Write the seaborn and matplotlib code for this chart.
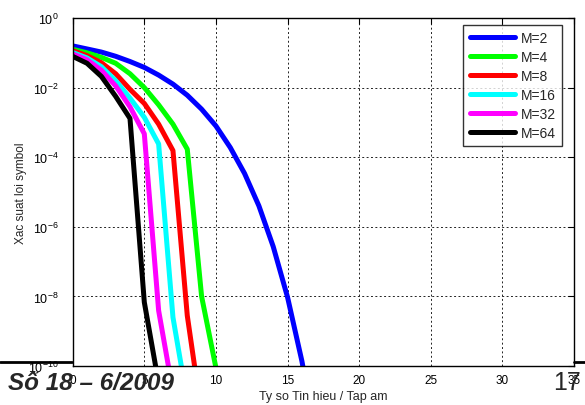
import numpy as np
import pandas as pd
import matplotlib
matplotlib.use("Agg")
import matplotlib.pyplot as plt
import seaborn as sns
from matplotlib.lines import Line2D

# ---- data ----
snr_db = [0, 1, 2, 3, 4, 5, 6, 7, 8, 9, 10, 11, 12, 13, 14, 15, 16, 17]
ser_m2 = [0.158, 0.129, 0.105, 0.0794, 0.0562, 0.038, 0.0229, 0.0126, 0.00603,
          0.0024, 7.9e-4, 1.9e-4, 3.4e-5, 4.0e-6, 2.7e-7, 9.5e-9, 1.4e-10, 8e-13]
ser_m4 = [0.126, 0.100, 0.074, 0.050, 0.025, 0.010, 3.2e-3, 8.9e-4, 1.7e-4,
          1.0e-8, 8.9e-11, 1e-12]
ser_m8 = [0.115, 0.083, 0.052, 0.025, 8.9e-3, 3.5e-3, 8.9e-4, 1.55e-4, 2.8e-9, 4e-12]
ser_m16 = [0.102, 0.071, 0.040, 0.0158, 5.0e-3, 1.4e-3, 2.4e-4, 2.5e-9, 1e-11]
ser_m32 = [0.093, 0.063, 0.0316, 0.0112, 2.8e-3, 4.7e-4, 3.9e-9, 1.8e-11]
ser_m64 = [0.079, 0.050, 0.021, 5.6e-3, 1.3e-3, 6.8e-9, 3.2e-11]

series_labels = ["M=2", "M=4", "M=8", "M=16", "M=32", "M=64"]
series_values = [ser_m2, ser_m4, ser_m8, ser_m16, ser_m32, ser_m64]
colors = ["#0000ff", "#00ff00", "#ff0000", "#00ffff", "#ff00ff", "#000000"]

x_ticks = [0, 5, 10, 15, 20, 25, 30, 35]
y_ticks = [1e-10, 1e-8, 1e-6, 1e-4, 1e-2, 1e0]

xlabel = "Ty so Tin hieu / Tap am"
ylabel = "Xac suat loi symbol"
footer_left = "Số 18 – 6/2009"
footer_right = "17"

# ---- build table ----
rows = []
for lab, vals in zip(series_labels, series_values):
    for i, v in enumerate(vals):
        rows.append({"snr": snr_db[i], "ser": v, "M": lab, "order": i})
df = pd.DataFrame(rows)

sns.set_style("white")
plt.rcParams["font.family"] = ["Liberation Sans", "DejaVu Sans"]
plt.rcParams["mathtext.default"] = "regular"

fig = plt.figure(figsize=(5.85, 4.06), dpi=100)
ax = fig.add_axes([72.7 / 585, 1 - 367 / 406, (574 - 72.7) / 585, (367 - 19) / 406])

sns.lineplot(data=df, x="snr", y="ser", hue="M", hue_order=series_labels,
             palette=colors, estimator=None, sort=False, linewidth=3.6,
             ax=ax, legend=True)

ax.set_yscale("log")
ax.set_xlim(0, 35)
ax.set_ylim(1e-10, 1)
ax.set_xticks(x_ticks)
ax.set_yticks(y_ticks)
ax.yaxis.set_minor_locator(matplotlib.ticker.NullLocator())
ax.grid(True, which="major", color="#222222", linestyle=(0, (2.0, 2.5)), linewidth=0.7)
ax.tick_params(direction="in", top=True, right=True, length=4, width=0.8,
               colors="black")
ax.tick_params(axis="x", labelsize=8.5, pad=5.5)
ax.tick_params(axis="y", labelsize=9, pad=10)
for sp in ax.spines.values():
    sp.set_color("black")
    sp.set_linewidth(1.0)

ax.set_xlabel(xlabel, fontsize=9, labelpad=3)
ax.set_ylabel(ylabel, fontsize=8.5, labelpad=1)

handles = [Line2D([0], [0], color=c, lw=3.6) for c in colors]
leg = ax.legend(handles, series_labels, loc="upper right",
                bbox_to_anchor=(0.977, 0.98), fontsize=10, frameon=True,
                fancybox=False, shadow=False, handlelength=3.25,
                handletextpad=0.45, labelspacing=0.35, borderpad=0.45,
                borderaxespad=0)
leg.get_frame().set_edgecolor("black")
leg.get_frame().set_linewidth(1.0)

# page rule and footer
fig.add_artist(Line2D([0, 72 / 585], [1 - 363 / 406] * 2, color="black", lw=2.0))
fig.add_artist(Line2D([574 / 585, 1.0], [1 - 363 / 406] * 2, color="black", lw=2.0))
fig.text(8 / 585, 1 - 390 / 406, footer_left, fontsize=17.5, fontweight="bold",
         fontstyle="italic", ha="left", va="baseline",
         family=["Liberation Sans", "DejaVu Sans"])
fig.text(553 / 585, 1 - 390 / 406, footer_right, fontsize=18,
         ha="left", va="baseline", family=["Liberation Sans", "DejaVu Sans"])

fig.savefig("out.png", dpi=100)
